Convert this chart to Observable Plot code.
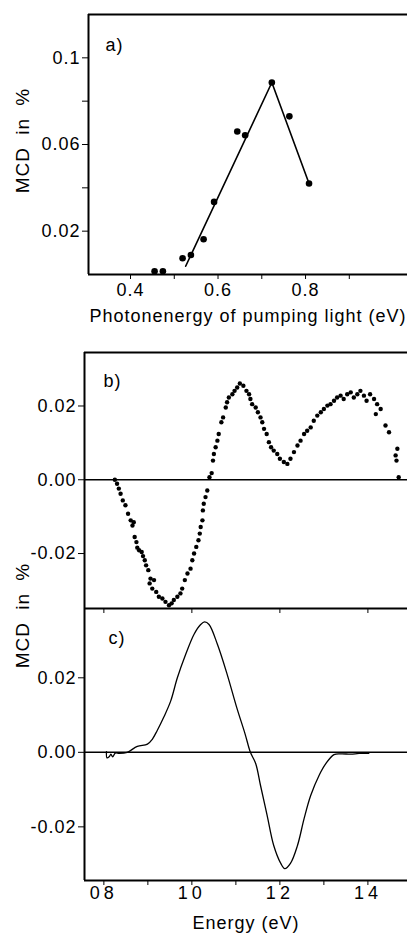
<!DOCTYPE html>
<html><head><meta charset="utf-8">
<script src="https://cdn.jsdelivr.net/npm/d3@7"></script>
<script src="https://cdn.jsdelivr.net/npm/@observablehq/plot@0.6"></script>
<style>
body{margin:0;background:#fff;}
#wrap{position:relative;width:407px;height:935px;overflow:hidden;background:#fff;}
#wrap svg{position:absolute;left:0;overflow:visible;background:transparent;}
#wrap svg text{letter-spacing:1px;}
</style></head><body><div id="wrap"></div>
<script>
// ---- Panel a data ----
const aX = [0.455, 0.474, 0.519, 0.538, 0.567, 0.591, 0.644, 0.662, 0.723, 0.763, 0.808];
const aY = [0.0015, 0.0015, 0.0075, 0.009, 0.0163, 0.0335, 0.066, 0.0643, 0.0886, 0.073, 0.042];
const aLineX = [0.526, 0.723, 0.808];
const aLineY = [0.0038, 0.0886, 0.042];
const aXDomain = [0.304, 1.033];
const aYDomain = [0, 0.12];
const aXTicks = [0.4, 0.5, 0.6, 0.7, 0.8, 0.9];
const aXTickLabels = ["0.4", "", "0.6", "", "0.8", ""];
const aYTicks = [0.02, 0.04, 0.06, 0.08, 0.1];
const aYTickLabels = ["0.02", "", "0.06", "", "0.1"];
const aXTitle = "Photonenergy of pumping light (eV)";
const yTitle = "MCD in %";
const panelLabels = ["a)", "b)", "c)"];

// ---- Panel b data (dots) ----
const bE = [8.25,8.30,8.34,8.38,8.43,8.49,8.55,8.61,8.65,8.68,8.70,8.74,8.76,8.80,8.86,8.89,8.93,8.96,9.01,9.04,9.06,9.10,9.14,9.19,9.25,9.33,9.40,9.48,9.54,9.59,9.67,9.74,9.78,9.84,9.90,9.97,10.01,10.05,10.10,10.15,10.18,10.20,10.24,10.25,10.27,10.31,10.35,10.40,10.45,
  10.48,10.50,10.54,10.58,10.61,10.67,10.71,10.77,10.80,10.84,10.92,10.97,11.03,11.09,11.17,11.24,11.30,11.33,11.37,11.45,11.50,11.56,11.60,11.64,11.70,11.75,11.80,11.86,11.94,12.00,
  12.09,12.17,12.24,12.32,12.40,12.47,12.55,12.62,12.70,12.77,12.85,12.93,13.00,13.08,13.15,13.23,13.30,13.38,13.45,13.53,13.61,13.68,13.76,13.83,13.91,13.97,14.05,14.14,14.18,14.21,14.29,14.40,14.48,14.63,14.65,14.67,14.70];
const bV = [0,-0.0011,-0.0024,-0.0038,-0.0056,-0.0069,-0.0092,-0.011,-0.0124,-0.0115,-0.0155,-0.0169,-0.0184,-0.0191,-0.0196,-0.0207,-0.0218,-0.0232,-0.0245,-0.0281,-0.0268,-0.0295,-0.0272,-0.0304,-0.0317,-0.0322,-0.0331,-0.034,-0.0335,-0.0326,-0.0317,-0.0308,-0.0295,-0.0272,-0.0254,-0.0241,-0.0218,-0.02,-0.0182,-0.0164,-0.0146,-0.0128,-0.011,-0.0083,-0.0065,-0.0047,-0.0029,0.0007,0.0018,
  0.0052,0.007,0.0088,0.0106,0.0124,0.0156,0.0169,0.0196,0.021,0.0223,0.0232,0.0241,0.025,0.0261,0.0255,0.0241,0.0232,0.0219,0.0205,0.0196,0.0183,0.0169,0.0156,0.0138,0.0124,0.0102,0.0088,0.0079,0.007,0.0057,
  0.0048,0.0043,0.0057,0.0075,0.0093,0.0106,0.0124,0.0133,0.0142,0.016,0.0174,0.0183,0.0192,0.0201,0.0205,0.0214,0.0223,0.0228,0.0219,0.0232,0.0237,0.0223,0.0232,0.0241,0.0228,0.0214,0.0232,0.0219,0.0178,0.0205,0.0192,0.0147,0.0129,0.0066,0.0052,0.0084,0.0007];
const bYDomain = [-0.0349, 0.0345];

// ---- Panel c data (curve) ----
const cE = [8.06,8.07,8.12,8.16,8.20,8.26,8.35,8.53,8.76,8.99,9.10,9.21,9.36,9.52,9.67,9.86,10.05,10.20,10.29,10.39,10.58,10.80,11.02,11.21,11.33,11.45,11.56,11.71,11.86,12.02,12.11,12.24,12.40,12.55,12.70,12.89,13.04,13.23,13.40,13.61,13.80,14.02];
const cV = [0.0002,-0.0015,-0.0012,-0.0005,-0.0012,-0.0002,-0.0003,0,0.0016,0.0022,0.0035,0.0058,0.0094,0.0138,0.020,0.0263,0.0317,0.0343,0.035,0.0343,0.029,0.021,0.012,0.0049,0,-0.003,-0.0089,-0.0169,-0.025,-0.0298,-0.0312,-0.0298,-0.025,-0.0178,-0.0116,-0.0062,-0.0031,-0.0006,-0.0004,-0.0005,-0.0003,-0.0003];
const cYDomain = [-0.0344, 0.0386];

// ---- shared energy axis ----
const eDomain = [7.56, 14.90];
const eTicks = [8, 9, 10, 11, 12, 13, 14];
const eTickLabels = ["08", "", "10", "", "12", "", "14"];
const eMajor = [8, 10, 12, 14];
const bcYTicks = [0.02, 0, -0.02];
const bcYTickLabels = ["0.02", "0.00", "-0.02"];
const eTitle = "Energy (eV)";

function fmt(ticks, labels) {
  const m = new Map(ticks.map((t, i) => [t, labels[i]]));
  return d => (m.has(d) ? m.get(d) : "");
}
const font = "Liberation Sans, Arial, sans-serif";
const baseStyle = {fontFamily: font, fontSize: "18px", background: "transparent", overflow: "visible", color: "#000"};
const wrap = document.getElementById("wrap");

// Panel a
const plotA = Plot.plot({
  width: 407, height: 330, marginLeft: 88, marginRight: 0, marginTop: 14, marginBottom: 56,
  style: baseStyle,
  x: {domain: aXDomain, ticks: aXTicks, tickFormat: fmt(aXTicks, aXTickLabels), tickSize: 5, tickPadding: 4, label: null},
  y: {domain: aYDomain, ticks: aYTicks, tickFormat: fmt(aYTicks, aYTickLabels), tickSize: 6, tickPadding: 2, label: null},
  marks: [
    Plot.ruleY([aYDomain[1]], {strokeWidth: 2}),
    Plot.ruleY([aYDomain[0]], {strokeWidth: 2}),
    Plot.ruleX([aXDomain[0]], {strokeWidth: 2}),
    Plot.line(aLineX.map((x, i) => ({x, y: aLineY[i]})), {x: "x", y: "y", strokeWidth: 1.6}),
    Plot.dot(aX.map((x, i) => ({x, y: aY[i]})), {x: "x", y: "y", r: 3.3, fill: "black", stroke: null}),
    Plot.text([panelLabels[0]], {frameAnchor: "top-left", dx: 17, dy: 24}),
    Plot.text([aXTitle], {frameAnchor: "bottom", lineAnchor: "top", dy: 35}),
    Plot.text([yTitle], {frameAnchor: "left", textAnchor: "middle", lineAnchor: "middle", rotate: -90, dx: -66, dy: -4, fontSize: 19})
  ]
});
plotA.style.top = "0px";
wrap.appendChild(plotA);

// Panel b
const plotB = Plot.plot({
  width: 407, height: 290, marginLeft: 84, marginRight: 0, marginTop: 22, marginBottom: 12,
  style: baseStyle,
  x: {domain: eDomain, ticks: eMajor, tickFormat: () => "", tickSize: 5, label: null},
  y: {domain: bYDomain, ticks: bcYTicks, tickFormat: fmt(bcYTicks, bcYTickLabels), tickSize: 6, tickPadding: 2, label: null},
  marks: [
    Plot.ruleY([bYDomain[1]], {strokeWidth: 2}),
    Plot.ruleY([bYDomain[0]], {strokeWidth: 2}),
    Plot.ruleX([eDomain[0]], {strokeWidth: 2}),
    Plot.ruleY([0], {strokeWidth: 1.5}),
    Plot.dot(bE.map((e, i) => ({e, v: bV[i]})), {x: "e", y: "v", r: 2.2, fill: "black", stroke: null}),
    Plot.text([panelLabels[1]], {frameAnchor: "top-left", dx: 19, dy: 22})
  ]
});
plotB.style.top = "330px";
wrap.appendChild(plotB);

// Panel c
const plotC = Plot.plot({
  width: 407, height: 335, marginLeft: 84, marginRight: 0, marginTop: 8, marginBottom: 55,
  style: baseStyle,
  x: {domain: eDomain, ticks: eTicks, tickFormat: fmt(eTicks, eTickLabels), tickSize: 5, tickPadding: 1, label: null},
  y: {domain: cYDomain, ticks: bcYTicks, tickFormat: fmt(bcYTicks, bcYTickLabels), tickSize: 6, tickPadding: 2, label: null},
  marks: [
    Plot.ruleY([cYDomain[0]], {strokeWidth: 2}),
    Plot.ruleX([eDomain[0]], {strokeWidth: 2}),
    Plot.ruleY([0], {strokeWidth: 1.5}),
    Plot.line(cE.map((e, i) => ({e, v: cV[i]})), {x: "e", y: "v", strokeWidth: 1.3, curve: "catmull-rom"}),
    Plot.text([panelLabels[2]], {frameAnchor: "top-left", dx: 24, dy: 23}),
    Plot.text([eTitle], {frameAnchor: "bottom", lineAnchor: "top", dy: 36}),
    Plot.text([yTitle], {frameAnchor: "top-left", textAnchor: "middle", lineAnchor: "middle", rotate: -90, dx: -62, dy: 7, fontSize: 19})
  ]
});
plotC.style.top = "600px";
wrap.appendChild(plotC);

// typographic tweaks: wider word spacing on the rotated titles, spaced digits on energy ticks
d3.select(wrap).selectAll("text").filter(function() { return this.textContent === yTitle; })
  .style("word-spacing", "6px");
d3.select(plotC).selectAll('g[aria-label="x-axis tick label"] text').style("letter-spacing", "4px");
</script></body></html>
